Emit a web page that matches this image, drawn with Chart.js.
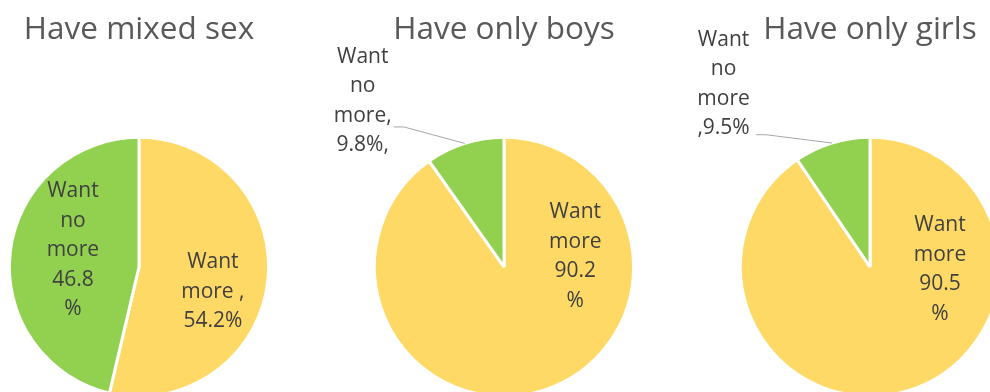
<!DOCTYPE html>
<html>
<head>
<meta charset="utf-8">
<script src="https://cdn.jsdelivr.net/npm/chart.js@4/dist/chart.umd.min.js"></script>
<style>
  html, body { margin: 0; padding: 0; background: #fff; }
  body { width: 990px; height: 392px; overflow: hidden; position: relative; }
  .pie { position: absolute; top: 0; width: 360px; height: 398px; }
</style>
</head>
<body>
<div class="pie" id="pie-mixed" style="left:-41px"><canvas id="c-mixed"></canvas></div>
<div class="pie" id="pie-boys" style="left:324px"><canvas id="c-boys"></canvas></div>
<div class="pie" id="pie-girls" style="left:690px"><canvas id="c-girls"></canvas></div>
<script>
const categories = ['Want more', 'Want no more'];
const mixedValues = [54.2, 46.8];
const boysValues = [90.2, 9.8];
const girlsValues = [90.5, 9.5];
const chartTitles = ['Have mixed sex', 'Have only boys', 'Have only girls'];

// label text per slice, {v} is filled from the slice value
const mixedLabels = [['Want', 'more ,', '{v}%'], ['Want', 'no', 'more', '{v}', '%']];
const boysLabels = [['Want', 'more', '{v}', '%'], ['Want', 'no', 'more,', '{v}%,']];
const girlsLabels = [['Want', 'more', '{v}', '%'], ['Want', 'no', 'more', ',{v}%']];

const YELLOW = '#FFD966';
const GREEN = '#92D050';

// draws the data labels (and leader lines for outside ones)
const sliceLabels = {
  id: 'sliceLabels',
  afterDatasetsDraw(chart, args, opts) {
    const ctx = chart.ctx;
    const meta = chart.getDatasetMeta(0);
    const values = chart.data.datasets[0].data;
    ctx.save();
    ctx.font = opts.size + 'px ' + opts.family;
    ctx.fillStyle = opts.color;
    ctx.textAlign = 'center';
    ctx.textBaseline = 'middle';
    meta.data.forEach((arc, i) => {
      const spec = opts.items[i];
      const p = arc.getProps(['x', 'y', 'outerRadius', 'startAngle', 'endAngle'], true);
      const r = p.outerRadius;
      const lines = spec.lines.map(s => s.replace('{v}', values[i].toFixed(1)));
      const cx = p.x + spec.dx * r;
      const cy = p.y + spec.dy * r;
      const top = cy - (lines.length - 1) * opts.lineHeight / 2;
      lines.forEach((t, k) => ctx.fillText(t, cx, top + k * opts.lineHeight));
      if (spec.leader) {
        const mid = (p.startAngle + p.endAngle) / 2;
        const sx = p.x + spec.leader[0] * r;
        const sy = p.y + spec.leader[1] * r;
        ctx.beginPath();
        ctx.moveTo(sx, sy);
        ctx.lineTo(sx + 10, sy);
        ctx.lineTo(p.x + Math.cos(mid) * r, p.y + Math.sin(mid) * r);
        ctx.strokeStyle = '#A6A6A6';
        ctx.lineWidth = 1;
        ctx.stroke();
      }
    });
    ctx.restore();
  }
};

function makePie(canvasId, title, values, labels, placement) {
  return new Chart(document.getElementById(canvasId), {
    type: 'pie',
    data: {
      labels: categories,
      datasets: [{
        data: values,
        backgroundColor: [YELLOW, GREEN],
        borderColor: '#ffffff',
        borderWidth: 3
      }]
    },
    options: {
      responsive: true,
      maintainAspectRatio: false,
      animation: false,
      layout: { padding: { top: 1 } },
      plugins: {
        legend: { display: false },
        tooltip: { enabled: false },
        title: {
          display: true,
          text: title,
          color: '#595959',
          font: { family: '"Open Sans", sans-serif', size: 31.5, weight: 'normal' },
          padding: { top: 10, bottom: 87 }
        },
        sliceLabels: {
          family: '"Open Sans", sans-serif',
          size: 21,
          lineHeight: 29.5,
          color: '#404040',
          items: labels.map((lines, i) => Object.assign({ lines: lines }, placement[i]))
        }
      }
    },
    plugins: [sliceLabels]
  });
}

makePie('c-mixed', chartTitles[0], mixedValues, mixedLabels, [
  { dx: 0.57, dy: 0.19 },
  { dx: -0.51, dy: -0.13 }
]);
makePie('c-boys', chartTitles[1], boysValues, boysLabels, [
  { dx: 0.55, dy: -0.08 },
  { dx: -1.09, dy: -1.28, leader: [-0.85, -1.08] }
]);
makePie('c-girls', chartTitles[2], girlsValues, girlsLabels, [
  { dx: 0.54, dy: 0.02 },
  { dx: -1.13, dy: -1.41, leader: [-0.88, -1.02] }
]);
</script>
</body>
</html>
